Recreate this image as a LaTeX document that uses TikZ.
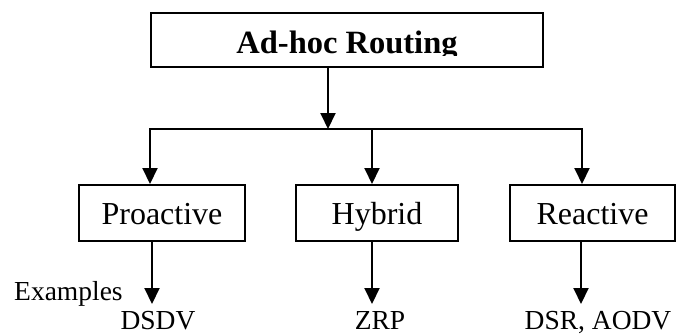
\documentclass[tikz,border=0pt]{standalone}
\usepackage{fontspec}
\setmainfont{Liberation Serif}
\usetikzlibrary{arrows.meta}

\tikzset{
  link/.style={line width=2pt, line cap=rect},
  arrowlink/.style={link, -{Triangle[width=15pt,length=16pt]}},
  catbox/.style={draw, line width=2pt, minimum height=56pt,
    text height=22pt, text depth=0pt, inner sep=0pt,
    font=\fontsize{32}{36}\selectfont},
  rootbox/.style={draw, line width=2pt, minimum width=392pt, minimum height=54pt},
  rootlabel/.style={font=\fontsize{32.5}{38}\selectfont\bfseries, inner sep=0pt, anchor=base},
  example/.style={font=\fontsize{27.5}{30}\selectfont, inner sep=0pt, anchor=base}
}

\begin{document}
\begin{tikzpicture}[x=1pt, y=-1pt]
  \useasboundingbox (0,0) rectangle (679,335);

  % root of the taxonomy; its caption is cut off just below the baseline
  \node[rootbox] (root) at (347,40) {};
  \begin{scope}
    \clip (152,14) rectangle (542,55.5);
    \node[rootlabel] (roottext) at (347,53) {Ad-hoc Routing};
  \end{scope}

  % the three families
  \node[catbox, minimum width=166pt] (pro) at (162,213) {Proactive};
  \node[catbox, minimum width=162pt] (hyb) at (377,213) {Hybrid};
  \node[catbox, minimum width=165pt] (rea) at (592.5,213) {Reactive};

  % branching bus
  \coordinate (bus) at (328,129);
  \coordinate (busL) at (150,129);
  \coordinate (busM) at (372,129);
  \coordinate (busR) at (582,129);

  \draw[arrowlink] (root.south -| bus) -- (bus);
  \draw[link] (busL) -- (busR);
  \draw[arrowlink] (busL) -- (pro.north -| busL);
  \draw[arrowlink] (busM) -- (hyb.north -| busM);
  \draw[arrowlink] (busR) -- (rea.north -| busR);

  % example protocols
  \coordinate (tipP) at (152,304);
  \coordinate (tipH) at (372,304);
  \coordinate (tipR) at (581,304);
  \draw[arrowlink] (pro.south -| tipP) -- (tipP);
  \draw[arrowlink] (hyb.south -| tipH) -- (tipH);
  \draw[arrowlink] (rea.south -| tipR) -- (tipR);

  \node[example, anchor=base west] (examples) at (14,300) {Examples};
  \node[example] (dsdv) at (158,329.5) {DSDV};
  \node[example] (zrp) at (380,329.5) {ZRP};
  \node[example] (dsr) at (598,329.5) {DSR, AODV};
\end{tikzpicture}
\end{document}
